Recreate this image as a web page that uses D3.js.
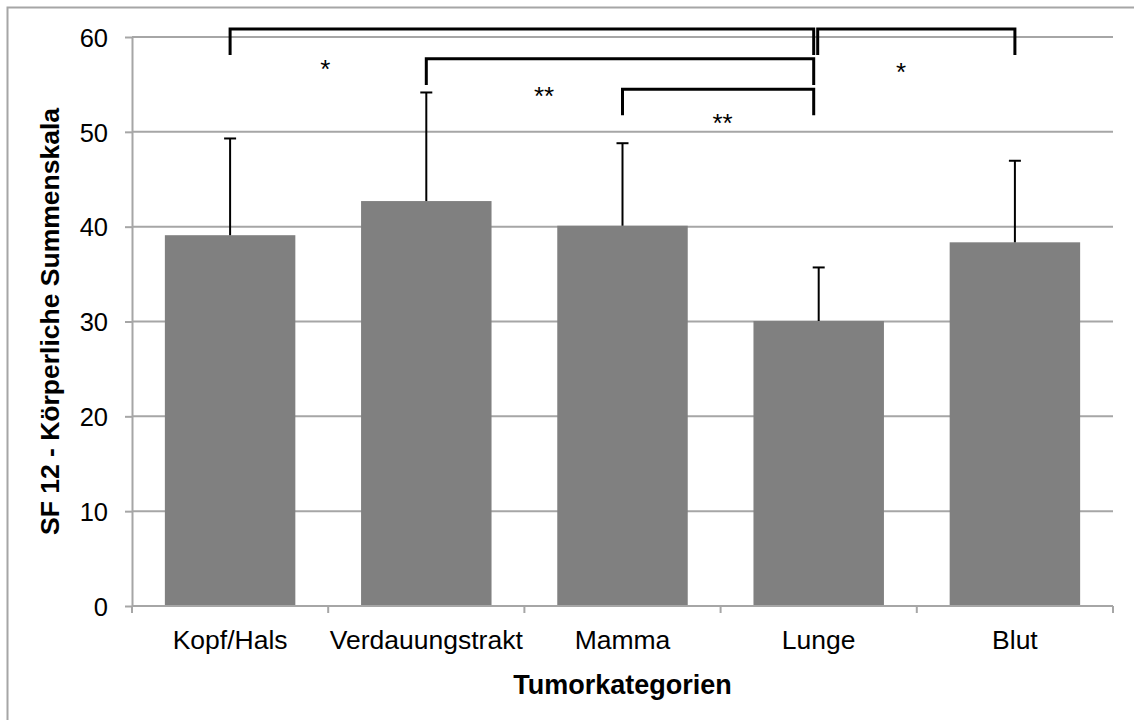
<!DOCTYPE html>
<meta charset="utf-8">
<html>
<head>
<style>
  body { margin: 0; background: #fff; }
  svg { display: block; font-family: "Liberation Sans", Arial, sans-serif; }
  .grid line { stroke: #a6a6a6; stroke-width: 2px; }
  .axis path, .axis line { stroke: #a6a6a6; stroke-width: 2px; }
  .axis text { fill: #000; font-size: 25.5px; }
  .axis.x text { font-size: 26.5px; }
  .bar { fill: #808080; }
  .err { stroke: #000; stroke-width: 2px; fill: none; }
  .bracket { stroke: #000; stroke-width: 3px; fill: none; }
</style>
</head>
<body>
<svg width="1134" height="720"></svg>
<script src="https://d3js.org/d3.v7.min.js"></script>
<script>
// Data
var categories = ["Kopf/Hals", "Verdauungstrakt", "Mamma", "Lunge", "Blut"];
var means = [39.1, 42.7, 40.1, 30.05, 38.35];
var sds = [10.2, 11.45, 8.7, 5.65, 8.6];
var yTicks = [0, 10, 20, 30, 40, 50, 60];

// significance brackets: from, to, level (value), label, label centre (category index, value)
var bracketFrom = ["Kopf/Hals", "Verdauungstrakt", "Mamma", "Lunge"];
var bracketTo = ["Lunge", "Lunge", "Lunge", "Blut"];
var bracketLevel = [60.85, 57.7, 54.5, 60.85];
var bracketLabel = ["*", "**", "**", "*"];
var labelIdx = [0.985, 2.1, 3.01, 3.92];
var labelVal = [57.3, 54.45, 51.6, 57.0];

var svg = d3.select("svg"),
    margin = {top: 37, right: 21, bottom: 114, left: 132},
    width = +svg.attr("width") - margin.left - margin.right,
    height = +svg.attr("height") - margin.top - margin.bottom;

// outer border
svg.append("rect")
  .attr("x", 7.5).attr("y", 7.5)
  .attr("width", 1140).attr("height", 730)
  .attr("fill", "none").attr("stroke", "#a6a6a6").attr("stroke-width", 2);

var g = svg.append("g").attr("transform", "translate(" + margin.left + "," + margin.top + ")");

var x = d3.scaleBand().domain(categories).range([0, width]).paddingInner(0.335).paddingOuter(0.1675);
var xi = d3.scaleLinear().domain([0, categories.length]).range([0, width]);
var y = d3.scaleLinear().domain([0, 60]).range([height, 0]);

// gridlines
g.append("g").attr("class", "grid")
  .selectAll("line").data(yTicks.filter(function(d) { return d > 0; }))
  .enter().append("line")
  .attr("x1", 0).attr("x2", width)
  .attr("y1", function(d) { return y(d); })
  .attr("y2", function(d) { return y(d); });

// bars
g.selectAll(".bar").data(categories).enter().append("rect")
  .attr("class", "bar")
  .attr("x", function(d) { return x(d); })
  .attr("width", x.bandwidth())
  .attr("y", function(d, i) { return y(means[i]); })
  .attr("height", function(d, i) { return height - y(means[i]); });

// error bars (upper only)
var cx = function(d) { return x(d) + x.bandwidth() / 2; };
g.selectAll(".errv").data(categories).enter().append("line")
  .attr("class", "err")
  .attr("x1", cx).attr("x2", cx)
  .attr("y1", function(d, i) { return y(means[i]); })
  .attr("y2", function(d, i) { return y(means[i] + sds[i]); });
g.selectAll(".errc").data(categories).enter().append("line")
  .attr("class", "err")
  .attr("x1", function(d) { return cx(d) - 6; })
  .attr("x2", function(d) { return cx(d) + 6; })
  .attr("y1", function(d, i) { return y(means[i] + sds[i]); })
  .attr("y2", function(d, i) { return y(means[i] + sds[i]); });

// x axis
var xAxis = g.append("g").attr("class", "axis x")
  .attr("transform", "translate(0," + height + ")")
  .call(d3.axisBottom(x).tickSize(0).tickPadding(24));
xAxis.select(".domain").attr("d", "M0,0H" + width);
xAxis.selectAll(".bticks").data(d3.range(categories.length + 1)).enter().append("line")
  .attr("x1", function(d) { return xi(d); }).attr("x2", function(d) { return xi(d); })
  .attr("y1", 0).attr("y2", 7);

// y axis
var yAxis = g.append("g").attr("class", "axis")
  .call(d3.axisLeft(y).tickValues(yTicks).tickSizeInner(7).tickSizeOuter(0).tickPadding(17));
yAxis.selectAll(".tick text").attr("dy", "0.36em");

// axis titles
svg.append("text")
  .attr("x", margin.left + width / 2).attr("y", 694)
  .attr("text-anchor", "middle")
  .style("font-size", "27px").style("font-weight", "bold")
  .text("Tumorkategorien");
svg.append("text")
  .attr("transform", "translate(59," + (margin.top + height / 2) + ") rotate(-90)")
  .attr("text-anchor", "middle")
  .style("font-size", "26.5px").style("font-weight", "bold")
  .text("SF 12 - Körperliche Summenskala");

// significance brackets
var drop = 2.75;
bracketFrom.forEach(function(f, i) {
  var x1 = cx(f), x2 = cx(bracketTo[i]);
  if (bracketTo[i] === "Lunge") x2 -= 5;
  if (f === "Lunge") x1 -= 1;
  var yl = y(bracketLevel[i]), yd = y(bracketLevel[i] - drop);
  g.append("path").attr("class", "bracket")
    .attr("d", "M" + x1 + "," + yd + "V" + yl + "H" + x2 + "V" + yd);
  g.append("text")
    .attr("x", xi(labelIdx[i])).attr("y", y(labelVal[i]))
    .attr("dy", "0.58em")
    .attr("text-anchor", "middle")
    .style("font-size", "26px")
    .text(bracketLabel[i]);
});
</script>
</body>
</html>
